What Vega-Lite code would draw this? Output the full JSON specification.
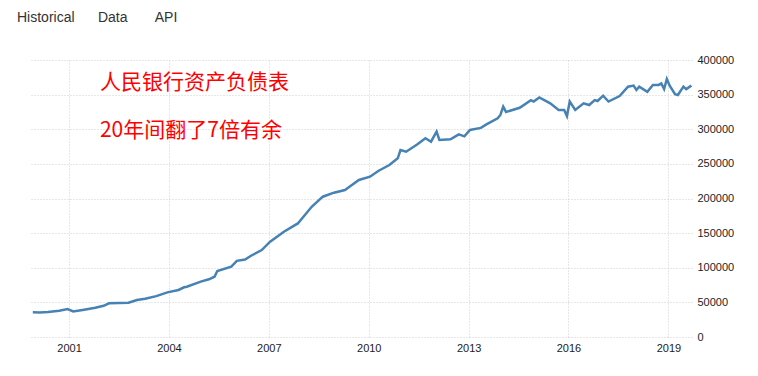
{
  "$schema": "https://vega.github.io/schema/vega-lite/v6.json",
  "autosize": {"type": "none"},
  "width": 662,
  "height": 277,
  "padding": {"left": 30, "top": 60, "right": 66, "bottom": 39},
  "background": "white",
  "view": {"stroke": null},
  "title": {
    "text": "Historical\u00a0\u00a0\u00a0\u00a0\u00a0\u00a0Data\u00a0\u00a0\u00a0\u00a0\u00a0\u00a0\u00a0API",
    "anchor": "start",
    "frame": "group",
    "dx": -13,
    "offset": 29,
    "font": "Liberation Sans",
    "fontSize": 14,
    "fontWeight": "normal",
    "color": "#333333"
  },
  "datasets": {
    "series": [
      {"date": "1999-11-30", "value": 35700},
      {"date": "2000-02-15", "value": 35300},
      {"date": "2000-05-15", "value": 36000},
      {"date": "2000-09-15", "value": 38000},
      {"date": "2000-12-15", "value": 40400},
      {"date": "2001-02-15", "value": 37000},
      {"date": "2001-06-15", "value": 39500},
      {"date": "2001-10-15", "value": 42300},
      {"date": "2002-01-15", "value": 45000},
      {"date": "2002-03-15", "value": 48600},
      {"date": "2002-10-15", "value": 49500},
      {"date": "2003-01-15", "value": 53400},
      {"date": "2003-04-15", "value": 55300},
      {"date": "2003-08-15", "value": 59000},
      {"date": "2003-12-15", "value": 64500},
      {"date": "2004-04-15", "value": 67900},
      {"date": "2004-06-15", "value": 71800},
      {"date": "2004-07-15", "value": 72600},
      {"date": "2004-12-15", "value": 79900},
      {"date": "2005-03-15", "value": 83300},
      {"date": "2005-05-15", "value": 87000},
      {"date": "2005-06-15", "value": 95300},
      {"date": "2005-11-15", "value": 101500},
      {"date": "2006-01-15", "value": 110000},
      {"date": "2006-04-15", "value": 112000},
      {"date": "2006-06-15", "value": 117000},
      {"date": "2006-10-15", "value": 125600},
      {"date": "2007-01-15", "value": 137600},
      {"date": "2007-06-15", "value": 152000},
      {"date": "2007-11-15", "value": 164000},
      {"date": "2008-04-15", "value": 188000},
      {"date": "2008-08-15", "value": 202600},
      {"date": "2008-12-15", "value": 208400},
      {"date": "2009-04-15", "value": 212300},
      {"date": "2009-06-15", "value": 218000},
      {"date": "2009-09-15", "value": 226700},
      {"date": "2010-01-15", "value": 231500},
      {"date": "2010-04-15", "value": 239700},
      {"date": "2010-08-15", "value": 248400},
      {"date": "2010-11-15", "value": 258000},
      {"date": "2010-12-15", "value": 270000},
      {"date": "2011-02-15", "value": 267600},
      {"date": "2011-06-15", "value": 278000},
      {"date": "2011-09-15", "value": 287000},
      {"date": "2011-11-15", "value": 282000},
      {"date": "2012-01-15", "value": 296500},
      {"date": "2012-02-15", "value": 284500},
      {"date": "2012-06-15", "value": 285500},
      {"date": "2012-09-15", "value": 292700},
      {"date": "2012-11-15", "value": 289800},
      {"date": "2013-01-15", "value": 299000},
      {"date": "2013-05-15", "value": 302000},
      {"date": "2013-07-15", "value": 307000},
      {"date": "2013-11-15", "value": 315800},
      {"date": "2013-12-15", "value": 320600},
      {"date": "2014-01-15", "value": 332600},
      {"date": "2014-02-15", "value": 325000},
      {"date": "2014-07-15", "value": 331000},
      {"date": "2014-11-15", "value": 342000},
      {"date": "2014-12-15", "value": 340000},
      {"date": "2015-02-15", "value": 346000},
      {"date": "2015-06-15", "value": 337500},
      {"date": "2015-09-15", "value": 327800},
      {"date": "2015-11-15", "value": 327800},
      {"date": "2015-12-15", "value": 319000},
      {"date": "2016-01-15", "value": 340000},
      {"date": "2016-03-15", "value": 327800},
      {"date": "2016-06-15", "value": 337500},
      {"date": "2016-08-15", "value": 335000},
      {"date": "2016-10-15", "value": 342000},
      {"date": "2016-11-15", "value": 340800},
      {"date": "2017-01-15", "value": 348500},
      {"date": "2017-03-15", "value": 340000},
      {"date": "2017-07-15", "value": 348000},
      {"date": "2017-10-15", "value": 361500},
      {"date": "2017-12-15", "value": 363000},
      {"date": "2018-01-15", "value": 356700},
      {"date": "2018-02-15", "value": 361500},
      {"date": "2018-05-15", "value": 354000},
      {"date": "2018-07-15", "value": 364000},
      {"date": "2018-09-15", "value": 364000},
      {"date": "2018-10-15", "value": 366000},
      {"date": "2018-11-15", "value": 358000},
      {"date": "2018-12-15", "value": 372500},
      {"date": "2019-01-15", "value": 363000},
      {"date": "2019-03-15", "value": 350500},
      {"date": "2019-04-15", "value": 349500},
      {"date": "2019-06-15", "value": 361500},
      {"date": "2019-07-15", "value": 358000},
      {"date": "2019-09-10", "value": 363000}
    ],
    "notes": [
      {"date": "2001-12-05", "value": 367200, "label": "人民银行资产负债表"},
      {"date": "2001-12-05", "value": 297500, "label": "20年间翻了7倍有余"}
    ]
  },
  "encoding": {
    "x": {
      "field": "date",
      "type": "temporal",
      "scale": {"domain": [{"year": 1999, "month": 10, "date": 30}, {"year": 2019, "month": 9, "date": 17}]},
      "axis": {
        "title": null,
        "format": "%Y",
        "values": [{"year": 2001}, {"year": 2004}, {"year": 2007}, {"year": 2010}, {"year": 2013}, {"year": 2016}, {"year": 2019}],
        "domain": false,
        "ticks": false,
        "grid": true,
        "gridColor": "#cfcfcf",
        "gridDash": [1, 2],
        "labelFont": "Liberation Sans",
        "labelFontSize": 11,
        "labelColor": "#222222",
        "labelPadding": 5
      }
    },
    "y": {
      "field": "value",
      "type": "quantitative",
      "scale": {"domain": [0, 400000], "nice": false},
      "axis": {
        "title": null,
        "orient": "right",
        "values": [0, 50000, 100000, 150000, 200000, 250000, 300000, 350000, 400000],
        "labelOverlap": false,
        "format": "d",
        "domain": false,
        "ticks": false,
        "grid": true,
        "gridColor": "#cfcfcf",
        "gridDash": [1, 2],
        "labelFont": "Liberation Sans",
        "labelFontSize": 11,
        "labelColor": "#222222",
        "labelPadding": 5
      }
    }
  },
  "layer": [
    {
      "data": {"name": "series"},
      "mark": {"type": "line", "color": "#4682b4", "strokeWidth": 2.5, "clip": true}
    },
    {
      "data": {"name": "notes"},
      "mark": {"type": "text", "align": "left", "baseline": "middle", "font": "Noto Sans CJK SC", "fontSize": 21, "color": "#ff0000"},
      "encoding": {
        "text": {"field": "label"}
      }
    }
  ]
}
